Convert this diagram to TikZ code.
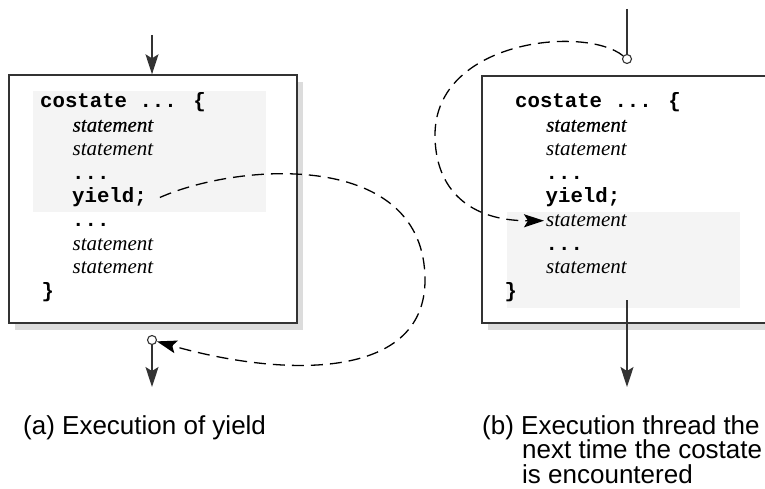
\documentclass[tikz,border=0pt]{standalone}
\usepackage{fontspec}
\setmainfont{Liberation Sans}
\newfontfamily\monofont{Liberation Mono}
\newfontfamily\stmtfont{Liberation Serif}
\newfontfamily\stmtdark{Liberation Serif}[FakeBold=0.5]
\usetikzlibrary{arrows.meta,shadows}
\definecolor{hilite}{HTML}{F4F4F4}
\definecolor{shade}{HTML}{DCDCDC}
\definecolor{ink}{HTML}{333333}
\tikzset{
  panel/.style={draw=ink, line width=1.4pt, fill=white, inner sep=0,
    drop shadow={shadow xshift=6pt, shadow yshift=-7pt, fill=shade, opacity=1}},
  code/.style={font=\monofont\bfseries\fontsize{20.7}{24}\selectfont, inner sep=0, anchor=base west},
  stmt/.style={font=\stmtfont\itshape\fontsize{21}{24}\selectfont, inner sep=0, anchor=base west},
  stmtfirst/.style={font=\stmtdark\itshape\fontsize{21}{24}\selectfont, inner sep=0, anchor=base west},
  caption/.style={font=\fontsize{26}{28}\selectfont, inner sep=0, anchor=base west},
  port/.style={circle, draw=ink, line width=1.1pt, fill=white, inner sep=0, minimum size=9pt},
  flow/.style={draw=ink, line width=1.3pt},
  tip/.style={-{Stealth[length=20pt, width=13pt, inset=4pt]}},
  hop/.style={draw=black, line width=1.3pt, dash pattern=on 12pt off 7pt}
}
\begin{document}
\begin{tikzpicture}[x=1pt, y=-1pt]
\useasboundingbox (0,0) rectangle (765,489);
\clip (0,0) rectangle (765,489);

% ---------- (a) left panel ----------
\node[panel, minimum width=288pt, minimum height=248pt] (boxA) at (153,199) {};
\fill[hilite] (33,91) rectangle (266,212);

\node[code] (a0) at (40,108) {costate ... \{};
\node[stmtfirst] (a1) at (72.5,131.7) {statement};
\node[stmt] (a2) at (72.5,155.4) {statement};
\node[code] (a3) at (72,179) {...};
\node[code] (a4) at (72,202.8) {yield;};
\node[code] (a5) at (72,226.5) {...};
\node[stmt] (a6) at (72.5,250.2) {statement};
\node[stmt] (a7) at (72.5,273.9) {statement};
\node[code] (a8) at (41.5,297.6) {\}};

\coordinate (inA) at (152,35);
\draw[flow, tip] (inA) -- (inA |- boxA.north);

\node[port] (outA) at (152,340) {};
\coordinate (downA) at (152,387);

% yield hands control back out of the costate
\draw[hop, tip] ([xshift=13pt]a4.east) .. controls (240,162) and (425,150) .. (425,280)
  .. controls (425,380) and (285,378) .. (outA);
\draw[flow, tip] (outA) -- (downA);

% ---------- (b) right panel ----------
\node[panel, minimum width=318pt, minimum height=247pt] (boxB) at (641,199.5) {};
\fill[hilite] (507,212) rectangle (740,308);

\node[code] (b0) at (515,108) {costate ... \{};
\node[stmtfirst] (b1) at (546,131.7) {statement};
\node[stmt] (b2) at (546,155.4) {statement};
\node[code] (b3) at (545.5,179) {...};
\node[code] (b4) at (545.5,202.8) {yield;};
\node[stmt] (b5) at (546,226.5) {statement};
\node[code] (b6) at (545.5,250.2) {...};
\node[stmt] (b7) at (546,273.9) {statement};
\node[code] (b8) at (504.5,297.6) {\}};

\coordinate (inB) at (627,9);
\node[port] (portB) at (627,59) {};
\draw[flow] (inB) -- (portB);

% re-entry resumes right after the yield
\draw[hop, tip, shorten >=2pt] (portB) .. controls (585,25) and (435,40) .. (435,135)
  .. controls (435,190) and (470,221) .. (b5.west);

\coordinate (fromB) at (627,300);
\coordinate (downB) at (627,387);
\draw[flow, tip] (fromB) -- (downB);

% ---------- captions ----------
\node[caption] (capA) at (23,434) {(a) Execution of yield};
\node[caption] (capB1) at (482,434) {(b) Execution thread the};
\node[caption] (capB2) at (522,458.5) {next time the costate};
\node[caption] (capB3) at (522,483) {is encountered};
\end{tikzpicture}
\end{document}
